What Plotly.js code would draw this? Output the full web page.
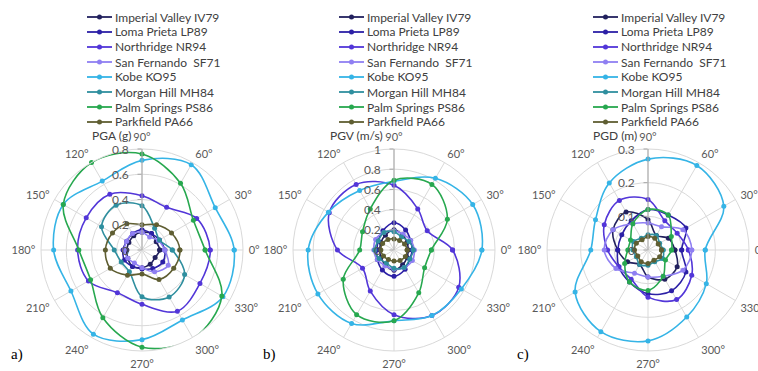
<!DOCTYPE html>
<html><head><meta charset="utf-8">
<script src="https://cdn.plot.ly/plotly-3.0.1.min.js"></script>
<style>html,body{margin:0;padding:0;background:#fff}</style>
</head><body><div id="chart" style="width:758px;height:371px"></div>
<script>
// ---- data ----
const angles = [0, 30, 60, 90, 120, 150, 180, 210, 240, 270, 300, 330];
const seriesNames = ['Imperial Valley IV79', 'Loma Prieta LP89', 'Northridge NR94', 'San Fernando  SF71',
  'Kobe KO95', 'Morgan Hill MH84', 'Palm Springs PS86', 'Parkfield PA66'];
const seriesColors = ['#22215e', '#2c20a6', '#5236d8', '#8f7ff2', '#35b4e6', '#2f8f9f', '#27a84f', '#5f5e32'];
const panelTitles = ['PGA (g)', 'PGV (m/s)', 'PGD (m)'];
const panelLetters = ['a)', 'b)', 'c)'];

// PGA (g), one row per series, values at the angles above
const pgaValues = [
  [0.14, 0.13, 0.15, 0.14, 0.13, 0.12, 0.12, 0.13, 0.15, 0.14, 0.13, 0.12],
  [0.18, 0.16, 0.15, 0.16, 0.15, 0.14, 0.15, 0.16, 0.15, 0.15, 0.17, 0.19],
  [0.54, 0.50, 0.39, 0.43, 0.51, 0.51, 0.51, 0.49, 0.39, 0.43, 0.56, 0.53],
  [0.18, 0.15, 0.12, 0.14, 0.15, 0.14, 0.14, 0.13, 0.12, 0.14, 0.20, 0.24],
  [0.73, 0.67, 0.78, 0.71, 0.63, 0.72, 0.70, 0.65, 0.77, 0.71, 0.64, 0.74],
  [0.24, 0.16, 0.20, 0.35, 0.41, 0.37, 0.22, 0.19, 0.20, 0.37, 0.43, 0.39],
  [0.50, 0.47, 0.61, 0.76, 0.80, 0.72, 0.50, 0.47, 0.62, 0.77, 0.81, 0.73],
  [0.30, 0.27, 0.23, 0.20, 0.24, 0.27, 0.29, 0.29, 0.23, 0.19, 0.27, 0.29]
];
// PGV (m/s)
const pgvValues = [
  [0.14, 0.15, 0.17, 0.20, 0.17, 0.15, 0.14, 0.15, 0.17, 0.20, 0.17, 0.15],
  [0.18, 0.19, 0.23, 0.27, 0.22, 0.18, 0.17, 0.19, 0.23, 0.26, 0.22, 0.18],
  [0.58, 0.38, 0.47, 0.64, 0.75, 0.74, 0.56, 0.36, 0.47, 0.64, 0.75, 0.74],
  [0.20, 0.19, 0.18, 0.19, 0.20, 0.21, 0.20, 0.19, 0.18, 0.19, 0.20, 0.21],
  [0.87, 0.90, 0.82, 0.68, 0.68, 0.75, 0.85, 0.87, 0.84, 0.70, 0.75, 0.77],
  [0.19, 0.17, 0.15, 0.18, 0.20, 0.18, 0.19, 0.17, 0.15, 0.18, 0.20, 0.18],
  [0.37, 0.61, 0.75, 0.69, 0.47, 0.36, 0.34, 0.58, 0.74, 0.70, 0.49, 0.35],
  [0.13, 0.12, 0.11, 0.11, 0.12, 0.13, 0.13, 0.12, 0.11, 0.11, 0.12, 0.13]
];
// PGD (m)
const pgdValues = [
  [0.08, 0.07, 0.05, 0.09, 0.13, 0.12, 0.09, 0.07, 0.05, 0.08, 0.10, 0.10],
  [0.10, 0.13, 0.12, 0.12, 0.10, 0.09, 0.09, 0.10, 0.11, 0.13, 0.14, 0.13],
  [0.12, 0.10, 0.10, 0.15, 0.17, 0.15, 0.12, 0.10, 0.10, 0.14, 0.17, 0.15],
  [0.13, 0.12, 0.08, 0.08, 0.09, 0.12, 0.13, 0.11, 0.08, 0.08, 0.09, 0.12],
  [0.17, 0.26, 0.29, 0.27, 0.23, 0.18, 0.17, 0.25, 0.28, 0.27, 0.23, 0.20],
  [0.045, 0.040, 0.050, 0.045, 0.040, 0.050, 0.045, 0.040, 0.050, 0.045, 0.040, 0.050],
  [0.07, 0.08, 0.12, 0.12, 0.09, 0.06, 0.06, 0.08, 0.11, 0.12, 0.09, 0.06],
  [0.040, 0.035, 0.040, 0.040, 0.035, 0.040, 0.040, 0.035, 0.040, 0.040, 0.035, 0.040]
];
const radialTicksA = [0, 0.2, 0.4, 0.6, 0.8];
const radialTicksB = [0, 0.2, 0.4, 0.6, 0.8, 1];
const radialTicksC = [0, 0.1, 0.2, 0.3];

// ---- layout constants ----
const W = 758, H = 371;
const centersX = [142, 394, 648];
const centerY = 250, R = 101;
const panelData = [pgaValues, pgvValues, pgdValues];
const panelTicks = [radialTicksA, radialTicksB, radialTicksC];
const FONT = 'Lato, "Open Sans", sans-serif';

const traces = [];
const layout = {
  width: W, height: H, margin: {l: 0, r: 0, t: 0, b: 0},
  paper_bgcolor: '#fff', showlegend: false,
  annotations: [], shapes: []
};

panelData.forEach((vals, p) => {
  const key = p === 0 ? 'polar' : 'polar' + (p + 1);
  const ticks = panelTicks[p];
  const rMax = ticks[ticks.length - 1];
  layout[key] = {
    domain: {
      x: [(centersX[p] - R) / W, (centersX[p] + R) / W],
      y: [(H - centerY - R) / H, (H - centerY + R) / H]
    },
    bgcolor: '#fff',
    gridshape: 'linear',
    angularaxis: {
      rotation: 0, direction: 'counterclockwise',
      tickmode: 'array', tickvals: angles, ticktext: angles.map(a => a + '°'),
      gridcolor: '#d9d9d9', linecolor: '#d9d9d9', showline: true,
      ticks: 'outside', ticklen: 3, tickcolor: 'rgba(0,0,0,0)',
      tickfont: {family: FONT, size: 11, color: '#595959'}
    },
    radialaxis: {
      range: [0, rMax], angle: 90, side: 'counterclockwise',
      tickmode: 'array', tickvals: ticks, showticklabels: false,
      gridcolor: '#d9d9d9', linecolor: '#a6a6a6', showline: true,
      ticks: 'outside', ticklen: 4, tickcolor: '#a6a6a6'
    }
  };
  vals.forEach((row, s) => {
    traces.push({
      type: 'scatterpolar', subplot: key, name: seriesNames[s],
      r: row.concat([row[0]]), theta: angles.concat([angles[0]]),
      mode: 'lines+markers',
      line: {color: seriesColors[s], width: 1.6, shape: 'spline', smoothing: 1},
      marker: {color: seriesColors[s], size: 5},
      hoverinfo: 'skip'
    });
  });
  // radial tick labels, left of the 90° axis, centred on each ring
  ticks.forEach(v => {
    layout.annotations.push({
      xref: 'paper', yref: 'paper', x: (centersX[p] - 11) / W,
      y: (H - (centerY - v / rMax * R)) / H,
      xanchor: 'right', yanchor: 'middle', showarrow: false, text: String(v),
      font: {family: FONT, size: 12, color: '#595959'}
    });
  });
  // radial title next to the 90° label
  layout.annotations.push({
    xref: 'paper', yref: 'paper', x: (centersX[p] - 9) / W, y: (H - 135) / H,
    xanchor: 'right', yanchor: 'middle', showarrow: false, text: panelTitles[p],
    font: {family: FONT, size: 12, color: '#404040'}
  });
  // panel letter
  layout.annotations.push({
    xref: 'paper', yref: 'paper', x: (centersX[p] - 133) / W, y: (H - 354) / H,
    xanchor: 'left', yanchor: 'middle', showarrow: false, text: panelLetters[p],
    font: {family: '"Liberation Serif", serif', size: 15, color: '#000'}
  });
  // legend block
  seriesNames.forEach((nm, s) => {
    const yPx = 17 + 15 * s;
    const yP = (H - yPx) / H;
    layout.shapes.push({
      type: 'line', xref: 'paper', yref: 'paper',
      x0: (centersX[p] - 55) / W, x1: (centersX[p] - 30) / W, y0: yP, y1: yP,
      line: {color: seriesColors[s], width: 1.8}
    });
    layout.shapes.push({
      type: 'circle', xref: 'paper', yref: 'paper',
      x0: (centersX[p] - 45) / W, x1: (centersX[p] - 40) / W,
      y0: (H - yPx - 2.5) / H, y1: (H - yPx + 2.5) / H,
      fillcolor: seriesColors[s], line: {color: seriesColors[s], width: 0}
    });
    layout.annotations.push({
      xref: 'paper', yref: 'paper', x: (centersX[p] - 29) / W, y: yP,
      xanchor: 'left', yanchor: 'middle', showarrow: false, text: nm,
      font: {family: FONT, size: 12, color: '#404040'}
    });
  });
});

Plotly.newPlot('chart', traces, layout, {staticPlot: true, displayModeBar: false});
</script></body></html>
